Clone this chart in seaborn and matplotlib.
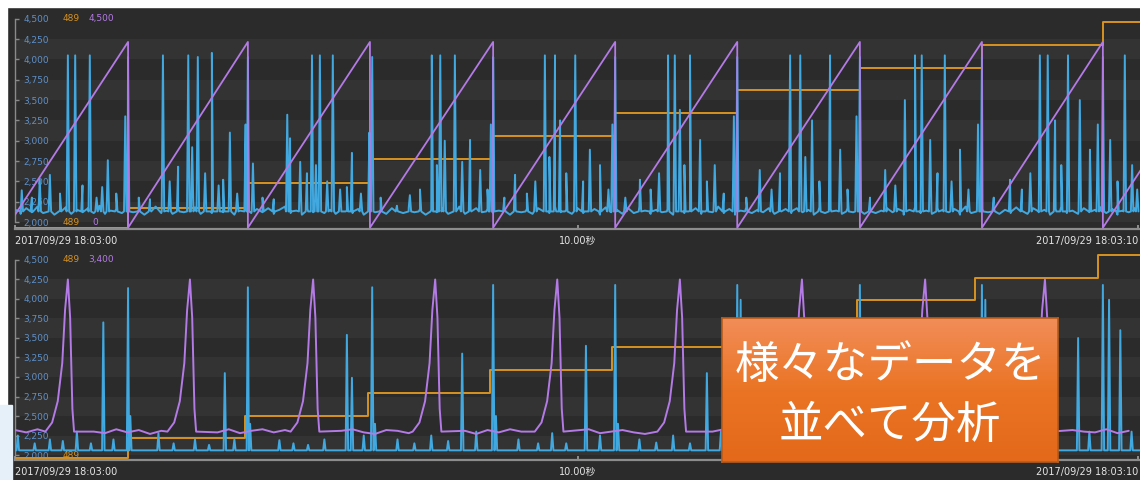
import numpy as np
import pandas as pd
import seaborn as sns
import matplotlib.pyplot as plt
from matplotlib.patches import Rectangle
from matplotlib.colors import LinearSegmentedColormap

# ---- data (time in seconds after 18:03:00) ----
X_LABELS = ['2017/09/29 18:03:00', '10.00秒', '2017/09/29 18:03:10']
Y_TICKS = [2000, 2250, 2500, 2750, 3000, 3250, 3500, 3750, 4000, 4250, 4500]

# top panel
top_reset_t = [-0.15, 2.01, 4.14, 6.31, 8.50, 10.67, 12.84, 15.02, 17.19, 19.34, 21.51]
top_saw_low, top_saw_high = 1930, 4215
top_step_t = [0.0, 2.01, 4.14, 6.31, 8.50, 10.67, 12.84, 15.02, 17.19, 19.34, 20.0]
top_step_v = [1930, 2170, 2480, 2775, 3060, 3340, 3625, 3895, 4180, 4460, 4460]
top_base = 2130
# baseline wobble of the blue trace, one value every 0.1 s
top_noise = [20, -30, 40, -10, 60, -20, 30, -40, 10, 50, -30, 20, -10, 40, -20, 70, -30, 10, 30, -20,
             40, -10, 20, -40, 30, 60, -20, 10, -30, 40, -10, 20, 50, -30, 10, -20, 40, -10, 30, -40,
             10, 50, -20, 30, -10, 40, -30, 20, 60, -20, 10, -40, 30, -10, 50, -20, 20, -30, 40, 10,
             -20, 30, -40, 60, -10, 20, -30, 40, 10, -20, 50, -10, 30, -40, 20, -10, 40, -30, 10, 60,
             -30, 20, 40, -10, 30, -20, 10, 50, -40, 20, -10, 30, -30, 40, 10, -20, 60, -10, 20, -30,
             40, -20, 10, 30, -40, 50, -10, 20, -30, 40, -20, 60, 10, -30, 20, -10, 30, -40, 50, -20,
             10, 40, -30, 20, -10, 60, -20, 30, -40, 10, 50, -20, 20, -10, 40, -30, 10, 30, -20, 40,
             -10, 20, -40, 50, -20, 30, 10, -30, 40, -10, 20, -30, 60, -20, 10, 40, -10, 30, -40, 20,
             50, -20, 10, -30, 40, 20, -10, 30, -40, 60, -20, 10, 30, -10, 40, -30, 20, -20, 50, 10,
             -30, 40, -10, 20, -40, 30, 60, -20, 10, -30, 40, -10, 20, 50, -20, 30, -40, 10, -10, 40]
top_spike_t = [0.12, 0.30, 0.44, 0.62, 0.80, 0.94, 1.07, 1.20, 1.33, 1.45, 1.55, 1.65, 1.80, 1.96, 2.01,
               2.20, 2.40, 2.63, 2.75, 2.90, 3.08, 3.15, 3.25, 3.38, 3.50, 3.62, 3.70, 3.82, 3.95, 4.10, 4.14,
               4.23, 4.40, 4.60, 4.84, 4.89, 5.07, 5.19, 5.28, 5.35, 5.42, 5.55, 5.65, 5.78, 5.90, 5.99, 6.15, 6.30, 6.35,
               6.50, 6.79, 7.02, 7.20, 7.41, 7.50, 7.56, 7.64, 7.82, 7.95, 8.09, 8.27, 8.40, 8.46, 8.50,
               8.70, 8.89, 9.10, 9.25, 9.42, 9.50, 9.60, 9.69, 9.80, 9.96, 10.10, 10.22, 10.40, 10.55, 10.62, 10.67,
               10.85, 11.11, 11.30, 11.45, 11.61, 11.73, 11.82, 11.90, 12.00, 12.18, 12.30, 12.44, 12.60, 12.78, 12.84,
               13.00, 13.24, 13.45, 13.60, 13.78, 13.96, 14.05, 14.17, 14.30, 14.49, 14.67, 14.80, 14.96, 15.02,
               15.20, 15.47, 15.65, 15.82, 16.00, 16.12, 16.27, 16.40, 16.53, 16.65, 16.80, 16.95, 17.12, 17.19,
               17.40, 17.69, 17.90, 18.05, 18.22, 18.36, 18.49, 18.60, 18.72, 18.93, 19.11, 19.25, 19.34, 19.47,
               19.60, 19.73, 19.86, 19.95]
top_spike_v = [2390, 2300, 2520, 2580, 2350, 4050, 4050, 2450, 4050, 2300, 2430, 2760, 2350, 3300, 4030,
               2300, 2280, 4050, 2500, 2680, 4050, 2920, 4030, 2600, 4080, 2450, 2520, 3100, 2350, 3200, 4030,
               2720, 2300, 2280, 3320, 3030, 2740, 2600, 4050, 2700, 4050, 2500, 4050, 2400, 2430, 2850, 2350, 3100, 4030,
               2300, 2200, 2330, 2400, 4050, 2700, 4050, 3000, 4050, 2740, 3010, 2640, 2400, 3200, 4030,
               2300, 2580, 2350, 2500, 4050, 2800, 4050, 3250, 2600, 4050, 2500, 2890, 2700, 2400, 3200, 4030,
               2300, 2520, 2400, 2600, 4050, 4050, 3380, 2700, 4050, 3010, 2500, 2700, 2350, 3300, 4030,
               2300, 2640, 2400, 2600, 4050, 4050, 2800, 3250, 2500, 4050, 2890, 2400, 3300, 4030,
               2300, 2640, 2450, 3500, 4050, 4050, 3010, 2600, 4050, 2500, 2890, 2400, 3200, 4030,
               2300, 2520, 2400, 2600, 4050, 4050, 3250, 2700, 4050, 3500, 2890, 3200, 4030, 3010,
               2500, 4050, 2700, 2400]

# bottom panel
bot_step_t = [0.0, 2.01, 4.09, 6.28, 8.44, 10.61, 12.80, 14.97, 17.07, 19.25, 20.0]
bot_step_v = [1960, 2220, 2500, 2795, 3090, 3385, 3690, 3985, 4270, 4565, 4565]
bot_base = 2060
bot_spike_t = [0.05, 0.35, 0.62, 0.85, 1.10, 1.35, 1.57, 1.75, 2.01, 2.05,
               2.55, 2.82, 3.20, 3.45, 3.73, 3.90, 4.14, 4.18,
               4.70, 4.95, 5.21, 5.50, 5.90, 5.99, 6.20, 6.35, 6.40,
               6.80, 7.10, 7.40, 7.70, 7.95, 8.20, 8.50, 8.55,
               8.95, 9.30, 9.55, 9.80, 10.15, 10.40, 10.67, 10.72,
               11.10, 11.40, 11.70, 12.00, 12.30, 12.55, 12.84, 12.90, 13.25,
               13.60, 13.90, 14.20, 14.55, 14.75, 15.02, 15.10,
               15.40, 15.70, 16.00, 16.35, 16.75, 17.00, 17.19, 17.25,
               17.60, 17.90, 18.20, 18.50, 18.90, 19.10, 19.34, 19.45, 19.65, 19.85]
bot_spike_v = [2250, 2150, 2200, 2180, 2300, 2150, 3700, 2200, 4140, 2500,
               2280, 2150, 2200, 2130, 3050, 2200, 4150, 2400,
               2190, 2150, 2130, 2200, 3540, 2990, 2250, 4150, 2400,
               2200, 2150, 2250, 2180, 3300, 2300, 4180, 2500,
               2200, 2150, 2280, 2150, 3400, 2250, 4180, 2400,
               2200, 2160, 2250, 2150, 3050, 2300, 4180, 3990, 3600,
               2200, 2150, 2250, 3100, 2300, 4180, 2500,
               2200, 2150, 2250, 2150, 3300, 2300, 4180, 3990,
               2200, 2150, 2250, 2150, 3500, 2300, 4180, 3990, 3600, 2300]
bot_purple_base = 2300
# wobble of the purple baseline, one value every 0.2 s
bot_purple_noise = [20, -10, 30, -20, 10, -30, 20, 0, -20, 30, -10, 20, -30, 10, 30, -20, 0, 20, -10, 30,
                    -20, 10, 30, -10, 20, -30, 0, 20, -20, 10, 30, -10, -30, 20, 10, -20, 30, 0, -10, 20,
                    10, -30, 20, -10, 30, 0, -20, 10, 20, -30, 10, 30, -20, 0, 20, -10, -30, 10, 30, -20,
                    -10, 20, 0, 30, -20, 10, -30, 20, 10, -10, 30, -20, 0, 20, -30, 10, 20, -10, 30, -20,
                    30, -10, 20, -30, 0, 20, 10, -20, 30, -10, -20, 10, 30, -30, 20, 0, -10, 30, -20, 10]
bot_purple_peak_t = [0.94, 3.11, 5.30, 7.47, 9.64, 11.82, 13.99, 16.18, 18.31]
bot_purple_peak_v = [4250, 4250, 4250, 4250, 4250, 4250, 4250, 4250, 4250]

# ---- styling ----
BLUE, PURPLE, ORANGE = '#41a8e0', '#b47ae6', '#d8921f'
LABEL_BLUE = '#5f90c8'
BG, STRIPE = '#2b2b2b', '#333333'
# shape of one purple pulse: slow rise, fast fall (time offset, fraction of height)
PULSE_DT = [-0.40, -0.28, -0.18, -0.10, -0.05, 0.0, 0.04, 0.08, 0.11]
PULSE_FR = [0.0, 0.06, 0.2, 0.45, 0.8, 1.0, 0.75, 0.15, 0.0]


def spikes(base, ts, vs, noise=None, dt=0.1, half=0.022):
    if noise is None:
        pts = [(0.0, base), (20.0, base)]
    else:
        pts = [(k * dt, base + n) for k, n in enumerate(noise)]
    for t, v in zip(ts, vs):
        pts += [(t - half, base), (t, v), (t + half, base)]
    pts.sort()
    return pd.DataFrame(pts, columns=['t', 'v'])


def sawtooth(resets, low, high):
    pts = [(resets[0], low)]
    for r in resets[1:]:
        pts += [(r, high), (r, low)]
    return pd.DataFrame(pts, columns=['t', 'v'])


def pulses(base, ts, vs, noise, dt=0.2):
    pts = []
    for k, n in enumerate(noise):
        tk = k * dt
        if all(abs(tk - t) > 0.45 for t in ts):
            pts.append((tk, base + n))
    for t, v in zip(ts, vs):
        pts += [(t + d, base + f * (v - base)) for d, f in zip(PULSE_DT, PULSE_FR)]
    pts.sort()
    return pd.DataFrame(pts, columns=['t', 'v'])


def steps(ts, vs):
    return pd.DataFrame({'t': ts, 'v': vs})


sns.set_theme(style='dark')
plt.rcParams['font.family'] = ['DejaVu Sans', 'Noto Sans CJK JP']

fig = plt.figure(figsize=(11.4, 4.8), dpi=100, facecolor=BG)
W, H = 1140, 480


def px_axes(x0, y0, x1, y1):
    return fig.add_axes([x0 / W, 1 - y1 / H, (x1 - x0) / W, (y1 - y0) / H])


def style_axes(ax, ylim, top_labels, bottom_labels):
    ax.set_facecolor(BG)
    ax.set_xlim(0, 20)
    ax.set_ylim(*ylim)
    for k in range(len(Y_TICKS) - 1):
        if k % 2 == 0:
            ax.axhspan(Y_TICKS[k], Y_TICKS[k + 1], color=STRIPE, lw=0, zorder=0)
    ax.set_yticks(Y_TICKS)
    ax.set_yticklabels([f'{v:,}' for v in Y_TICKS])
    ax.tick_params(axis='y', direction='in', length=3, width=1, color='#8a8a8a',
                   pad=-6, labelsize=6.5, labelcolor=LABEL_BLUE, left=True)
    for lbl in ax.get_yticklabels():
        lbl.set_ha('left')
    ax.set_xticks([0, 10, 19.97])
    ax.set_xticklabels(X_LABELS)
    ax.tick_params(axis='x', direction='in', length=3, color='#9a9a9a',
                   pad=5, labelsize=7, labelcolor='#e6e6e6', bottom=True)
    xl = ax.get_xticklabels()
    xl[0].set_ha('left')
    xl[2].set_ha('right')
    for s in ['top', 'right']:
        ax.spines[s].set_visible(False)
    ax.spines['bottom'].set_color('#8c8c8c')
    ax.spines['bottom'].set_linewidth(1.6)
    ax.spines['left'].set_color('#8a8a8a')
    ax.spines['left'].set_linewidth(1)
    ax.spines['left'].set_bounds(Y_TICKS[0], Y_TICKS[-1])
    ax.grid(False)
    ax.set_xlabel('')
    ax.set_ylabel('')
    # value read-outs next to the axis extremes
    for (t, txt, c), yv in [(p, Y_TICKS[-1]) for p in top_labels] + [(p, Y_TICKS[0]) for p in bottom_labels]:
        ax.text(t, yv, txt, color=c, fontsize=6.5, va='center', ha='left', zorder=6)


# top panel
ax1 = px_axes(15, 10, 1140, 229)
sns.lineplot(data=spikes(top_base, top_spike_t, top_spike_v, noise=top_noise), x='t', y='v', ax=ax1,
             estimator=None, sort=False, color=BLUE, linewidth=1.4, zorder=3)
sns.lineplot(data=sawtooth(top_reset_t, top_saw_low, top_saw_high), x='t', y='v', ax=ax1,
             estimator=None, sort=False, color=PURPLE, linewidth=1.3, zorder=4)
sns.lineplot(data=steps(top_step_t, top_step_v), x='t', y='v', ax=ax1,
             estimator=None, sort=False, drawstyle='steps-post', color=ORANGE, linewidth=1.4, zorder=2)
style_axes(ax1, (1914, 4608),
           [(0.84, '489', ORANGE), (1.30, '4,500', PURPLE)],
           [(0.84, '489', ORANGE), (1.37, '0', PURPLE)])

# bottom panel
ax2 = px_axes(15, 250, 1140, 460)
sns.lineplot(data=spikes(bot_base, bot_spike_t, bot_spike_v), x='t', y='v', ax=ax2,
             estimator=None, sort=False, color=BLUE, linewidth=1.4, zorder=3)
sns.lineplot(data=pulses(bot_purple_base, bot_purple_peak_t, bot_purple_peak_v, bot_purple_noise),
             x='t', y='v', ax=ax2, estimator=None, sort=False, color=PURPLE, linewidth=1.4, zorder=4)
sns.lineplot(data=steps(bot_step_t, bot_step_v), x='t', y='v', ax=ax2,
             estimator=None, sort=False, drawstyle='steps-post', color=ORANGE, linewidth=1.4, zorder=2)
style_axes(ax2, (1936, 4628),
           [(0.84, '489', ORANGE), (1.30, '3,400', PURPLE)],
           [(0.84, '489', ORANGE)])

# slide edges around the screenshot
fig.patches.append(Rectangle((0, 1 - 7 / H), 1, 7 / H, transform=fig.transFigure, color='white', zorder=5))
fig.patches.append(Rectangle((0, 0), 7 / W, 1, transform=fig.transFigure, color='white', zorder=5))
fig.patches.append(Rectangle((0, 0), 12 / W, 75 / H, transform=fig.transFigure, color='#e6f0f8', zorder=5))

# orange call-out box
box = px_axes(722, 318, 1058, 462)
grad = LinearSegmentedColormap.from_list('box', ['#f28d58', '#ea7424', '#e4691a'])
box.imshow(np.linspace(0, 1, 64).reshape(-1, 1), cmap=grad, aspect='auto', extent=(0, 1, 0, 1), origin='upper')
box.set_xlim(0, 1)
box.set_ylim(0, 1)
box.set_xticks([])
box.set_yticks([])
for s in box.spines.values():
    s.set_color('#b85c1c')
    s.set_linewidth(1.2)
box.text(0.5, 0.675, '様々なデータを', color='white', fontsize=32, ha='center', va='center',
         family=['Noto Sans CJK JP', 'DejaVu Sans'])
box.text(0.5, 0.255, '並べて分析', color='white', fontsize=32, ha='center', va='center',
         family=['Noto Sans CJK JP', 'DejaVu Sans'])

fig.savefig('out.png', dpi=100, facecolor=BG)
